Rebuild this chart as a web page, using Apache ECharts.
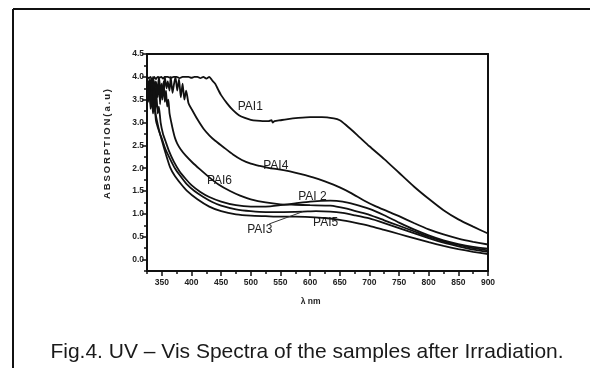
<!DOCTYPE html>
<html><head><meta charset="utf-8">
<script src="https://cdn.jsdelivr.net/npm/echarts@6/dist/echarts.min.js"></script>
<style>html,body{margin:0;padding:0;background:#fff}#c{width:590px;height:368px}</style>
</head><body><div id="c"></div>
<script>
// ---- data (wavelength nm, absorption a.u.) ----
const pai1 = [[325,4.0],[328,3.97],[331,4.0],[334,3.9],[337,4.0],[340,3.95],[343,4.0],[346,3.98],[349,4.0],[352,3.96],[355,4.0],[360,4.0],[365,3.98],[370,4.0],[375,4.0],[380,3.97],[385,4.0],[390,4.0],[395,4.0],[400,3.98],[405,4.0],[410,4.0],[415,3.97],[420,4.0],[425,3.96],[430,4.0],[435,3.92],[440,3.85],[445,3.72],[450,3.6],[460,3.42],[470,3.27],[480,3.16],[490,3.1],[500,3.06],[510,3.04],[520,3.03],[530,3.03],[535,3.05],[537,3.0],[540,3.03],[550,3.05],[560,3.07],[580,3.1],[600,3.12],[620,3.12],[640,3.09],[650,3.05],[660,2.95],[680,2.72],[700,2.48],[725,2.2],[750,1.9],[775,1.6],[800,1.33],[825,1.08],[850,0.88],[875,0.72],[900,0.57]];
const pai4 = [[325,4.0],[328,3.8],[330,3.95],[333,3.7],[335,4.0],[338,3.75],[340,3.9],[343,3.65],[345,4.0],[348,3.7],[350,3.85],[353,3.6],[355,4.0],[358,3.75],[360,3.9],[363,3.7],[365,4.0],[368,3.65],[370,3.8],[373,4.0],[376,3.7],[379,3.95],[382,3.55],[385,3.85],[388,3.5],[391,3.7],[395,3.42],[400,3.3],[410,3.07],[420,2.87],[430,2.72],[440,2.6],[453,2.47],[470,2.3],[485,2.18],[500,2.1],[515,2.05],[532,2.0],[550,1.97],[566,1.93],[585,1.87],[605,1.8],[625,1.71],[650,1.58],[670,1.45],[690,1.3],[710,1.17],[730,1.06],[750,0.95],[775,0.8],[800,0.66],[825,0.55],[850,0.46],[875,0.39],[900,0.33]];
const pai6 = [[325,3.95],[327,3.6],[329,3.9],[331,3.5],[333,3.95],[335,3.6],[337,3.9],[339,3.45],[341,3.85],[343,3.55],[345,3.95],[347,3.4],[349,3.8],[351,3.5],[353,3.9],[355,3.45],[357,3.7],[359,3.35],[361,3.5],[363,3.2],[366,3.0],[369,2.82],[372,2.67],[376,2.54],[382,2.41],[390,2.28],[402,2.12],[414,1.98],[430,1.8],[445,1.65],[465,1.5],[482,1.4],[500,1.32],[525,1.25],[550,1.21],[575,1.2],[600,1.19],[634,1.18],[660,1.12],[680,1.05],[700,0.98],[725,0.86],[750,0.74],[775,0.62],[800,0.5],[825,0.4],[850,0.32],[875,0.25],[900,0.2]];
const pai2 = [[325,3.9],[327,3.55],[329,3.85],[331,3.45],[333,3.8],[335,3.4],[337,3.75],[339,3.3],[341,3.6],[343,3.2],[345,3.35],[348,3.0],[352,2.75],[356,2.6],[362,2.38],[370,2.15],[380,1.93],[390,1.77],[400,1.63],[415,1.48],[430,1.37],[450,1.27],[475,1.19],[500,1.16],[525,1.16],[550,1.19],[575,1.23],[600,1.27],[634,1.29],[655,1.27],[675,1.21],[700,1.11],[725,0.97],[750,0.81],[775,0.66],[800,0.53],[825,0.42],[850,0.34],[875,0.28],[900,0.24]];
const pai3 = [[325,3.85],[327,3.5],[329,3.8],[331,3.4],[333,3.7],[335,3.25],[337,3.5],[340,3.05],[343,2.9],[347,2.75],[350,2.65],[356,2.42],[364,2.2],[372,2.0],[380,1.85],[392,1.65],[405,1.5],[420,1.37],[435,1.26],[450,1.18],[475,1.1],[500,1.06],[525,1.04],[550,1.04],[588,1.05],[610,1.06],[634,1.05],[655,1.02],[675,0.97],[700,0.9],[725,0.8],[750,0.69],[775,0.58],[800,0.47],[825,0.37],[850,0.29],[875,0.22],[900,0.17]];
const pai5 = [[325,3.8],[327,3.45],[329,3.75],[331,3.3],[333,3.6],[335,3.2],[337,3.35],[340,3.15],[345,2.85],[350,2.61],[357,2.3],[364,2.02],[372,1.83],[382,1.66],[392,1.51],[410,1.32],[430,1.16],[450,1.06],[475,0.99],[500,0.96],[525,0.95],[550,0.94],[575,0.94],[600,0.93],[625,0.91],[650,0.87],[675,0.81],[700,0.74],[725,0.65],[750,0.56],[775,0.47],[800,0.38],[825,0.3],[850,0.23],[875,0.17],[900,0.12]];
const seriesNames = ['PAI1','PAI4','PAI6','PAI 2','PAI3','PAI5'];
const seriesData = [pai1, pai4, pai6, pai2, pai3, pai5];
const xMin = 325, xMax = 900, xMajor = 50, xMinor = 25;
const yMin = -0.25, yMax = 4.5, yMajor = 0.5, yMinor = 0.25;
const xAxisTitle = 'λ nm';
const yAxisTitle = 'ABSORPTION(a.u)';
const caption = 'Fig.4. UV – Vis Spectra of the samples after Irradiation.';
// label anchors in data units [nm, value]
const labelAnchors = {'PAI1':[478,3.47],'PAI4':[521,2.18],'PAI6':[426,1.85],'PAI 2':[580,1.5],'PAI3':[494,0.78],'PAI5':[605,0.93]};
const pai3Leader = [[531,0.78],[588,1.05]];

// ---- layout ----
const W = 590, H = 368;
const G = {left:147, right:102, top:54, bottom:97};
const pw = W - G.left - G.right, ph = H - G.top - G.bottom;
const xMajLeft = G.left + (350 - xMin) / (xMax - xMin) * pw;
const y0Bottom = G.bottom + (0 - yMin) / (yMax - yMin) * ph;
const tickFont = {fontSize:8.5, fontWeight:'bold', color:'#222', fontFamily:'Liberation Sans, Arial'};
const axLine = {show:true, onZero:false, lineStyle:{color:'#111', width:2}};

const chart = echarts.init(document.getElementById('c'), null, {renderer:'canvas'});
const option = {
  animation:false,
  backgroundColor:'#fff',
  grid:[
    {left:G.left, right:G.right, top:G.top, bottom:G.bottom},
    {left:xMajLeft, right:G.right, top:G.top, bottom:G.bottom},
    {left:G.left, right:G.right, top:G.top, bottom:y0Bottom}
  ],
  xAxis:[
    {gridIndex:0, type:'value', min:xMin, max:xMax, interval:xMinor, axisLine:axLine,
     axisTick:{show:true, length:3, lineStyle:{color:'#111', width:1.5}}, axisLabel:{show:false}, splitLine:{show:false}},
    {gridIndex:0, type:'value', position:'top', min:xMin, max:xMax, axisLine:axLine, axisTick:{show:false}, axisLabel:{show:false}, splitLine:{show:false}},
    {gridIndex:1, type:'value', min:350, max:xMax, interval:xMajor, axisLine:{show:false, onZero:false},
     axisTick:{show:true, length:5, lineStyle:{color:'#111', width:1.5}}, axisLabel:Object.assign({margin:7}, tickFont), splitLine:{show:false}},
    {gridIndex:2, type:'value', min:xMin, max:xMax, show:false}
  ],
  yAxis:[
    {gridIndex:0, type:'value', min:yMin, max:yMax, interval:yMinor, axisLine:axLine,
     axisTick:{show:true, length:3, lineStyle:{color:'#111', width:1.5}}, axisLabel:{show:false}, splitLine:{show:false}},
    {gridIndex:0, type:'value', position:'right', min:yMin, max:yMax, axisLine:axLine, axisTick:{show:false}, axisLabel:{show:false}, splitLine:{show:false}},
    {gridIndex:1, type:'value', min:yMin, max:yMax, show:false},
    {gridIndex:2, type:'value', min:0, max:yMax, interval:yMajor, axisLine:{show:false, onZero:false},
     axisTick:{show:true, length:5, lineStyle:{color:'#111', width:1.5}},
     axisLabel:Object.assign({margin:3, formatter:v=>v.toFixed(1)}, tickFont), splitLine:{show:false}}
  ],
  series: seriesNames.map((n,i)=>({
    name:n, type:'line', xAxisIndex:0, yAxisIndex:0, data:seriesData[i], showSymbol:false, symbol:'none',
    smooth:0.2, lineStyle:{color:'#111', width:1.8}
  })).concat([{
    name:'leader', type:'line', xAxisIndex:0, yAxisIndex:0, data:pai3Leader, symbol:'none', lineStyle:{color:'#333', width:1}
  }])
};
chart.setOption(option);

const gfx = [
  {type:'line', shape:{x1:13, y1:9, x2:W+5, y2:9}, style:{stroke:'#111', lineWidth:2}},
  {type:'line', shape:{x1:13, y1:9, x2:13, y2:H+5}, style:{stroke:'#111', lineWidth:2}},
  {type:'text', x:107, y:G.top + 90, rotation:Math.PI/2, style:{text:yAxisTitle.split('').join('\u2009'), align:'center', verticalAlign:'middle', font:'bold 9.5px "Liberation Sans", Arial', fill:'#222'}},
  {type:'text', x:G.left + pw*0.48, y:H - G.bottom + 31, style:{text:xAxisTitle, align:'center', verticalAlign:'middle', font:'bold 8.5px "Liberation Sans", Arial', fill:'#222'}},
  {type:'text', x:307, y:352, style:{text:caption, align:'center', verticalAlign:'middle', font:'21px "Liberation Sans", Arial', fill:'#1a1a1a'}}
];
Object.keys(labelAnchors).forEach(k=>{
  const p = chart.convertToPixel({xAxisIndex:0, yAxisIndex:0}, labelAnchors[k]);
  gfx.push({type:'text', x:p[0], y:p[1], style:{text:k, align:'left', verticalAlign:'top', font:'12px "Liberation Sans", Arial', fill:'#222'}});
});
chart.setOption({graphic:gfx});
</script></body></html>
